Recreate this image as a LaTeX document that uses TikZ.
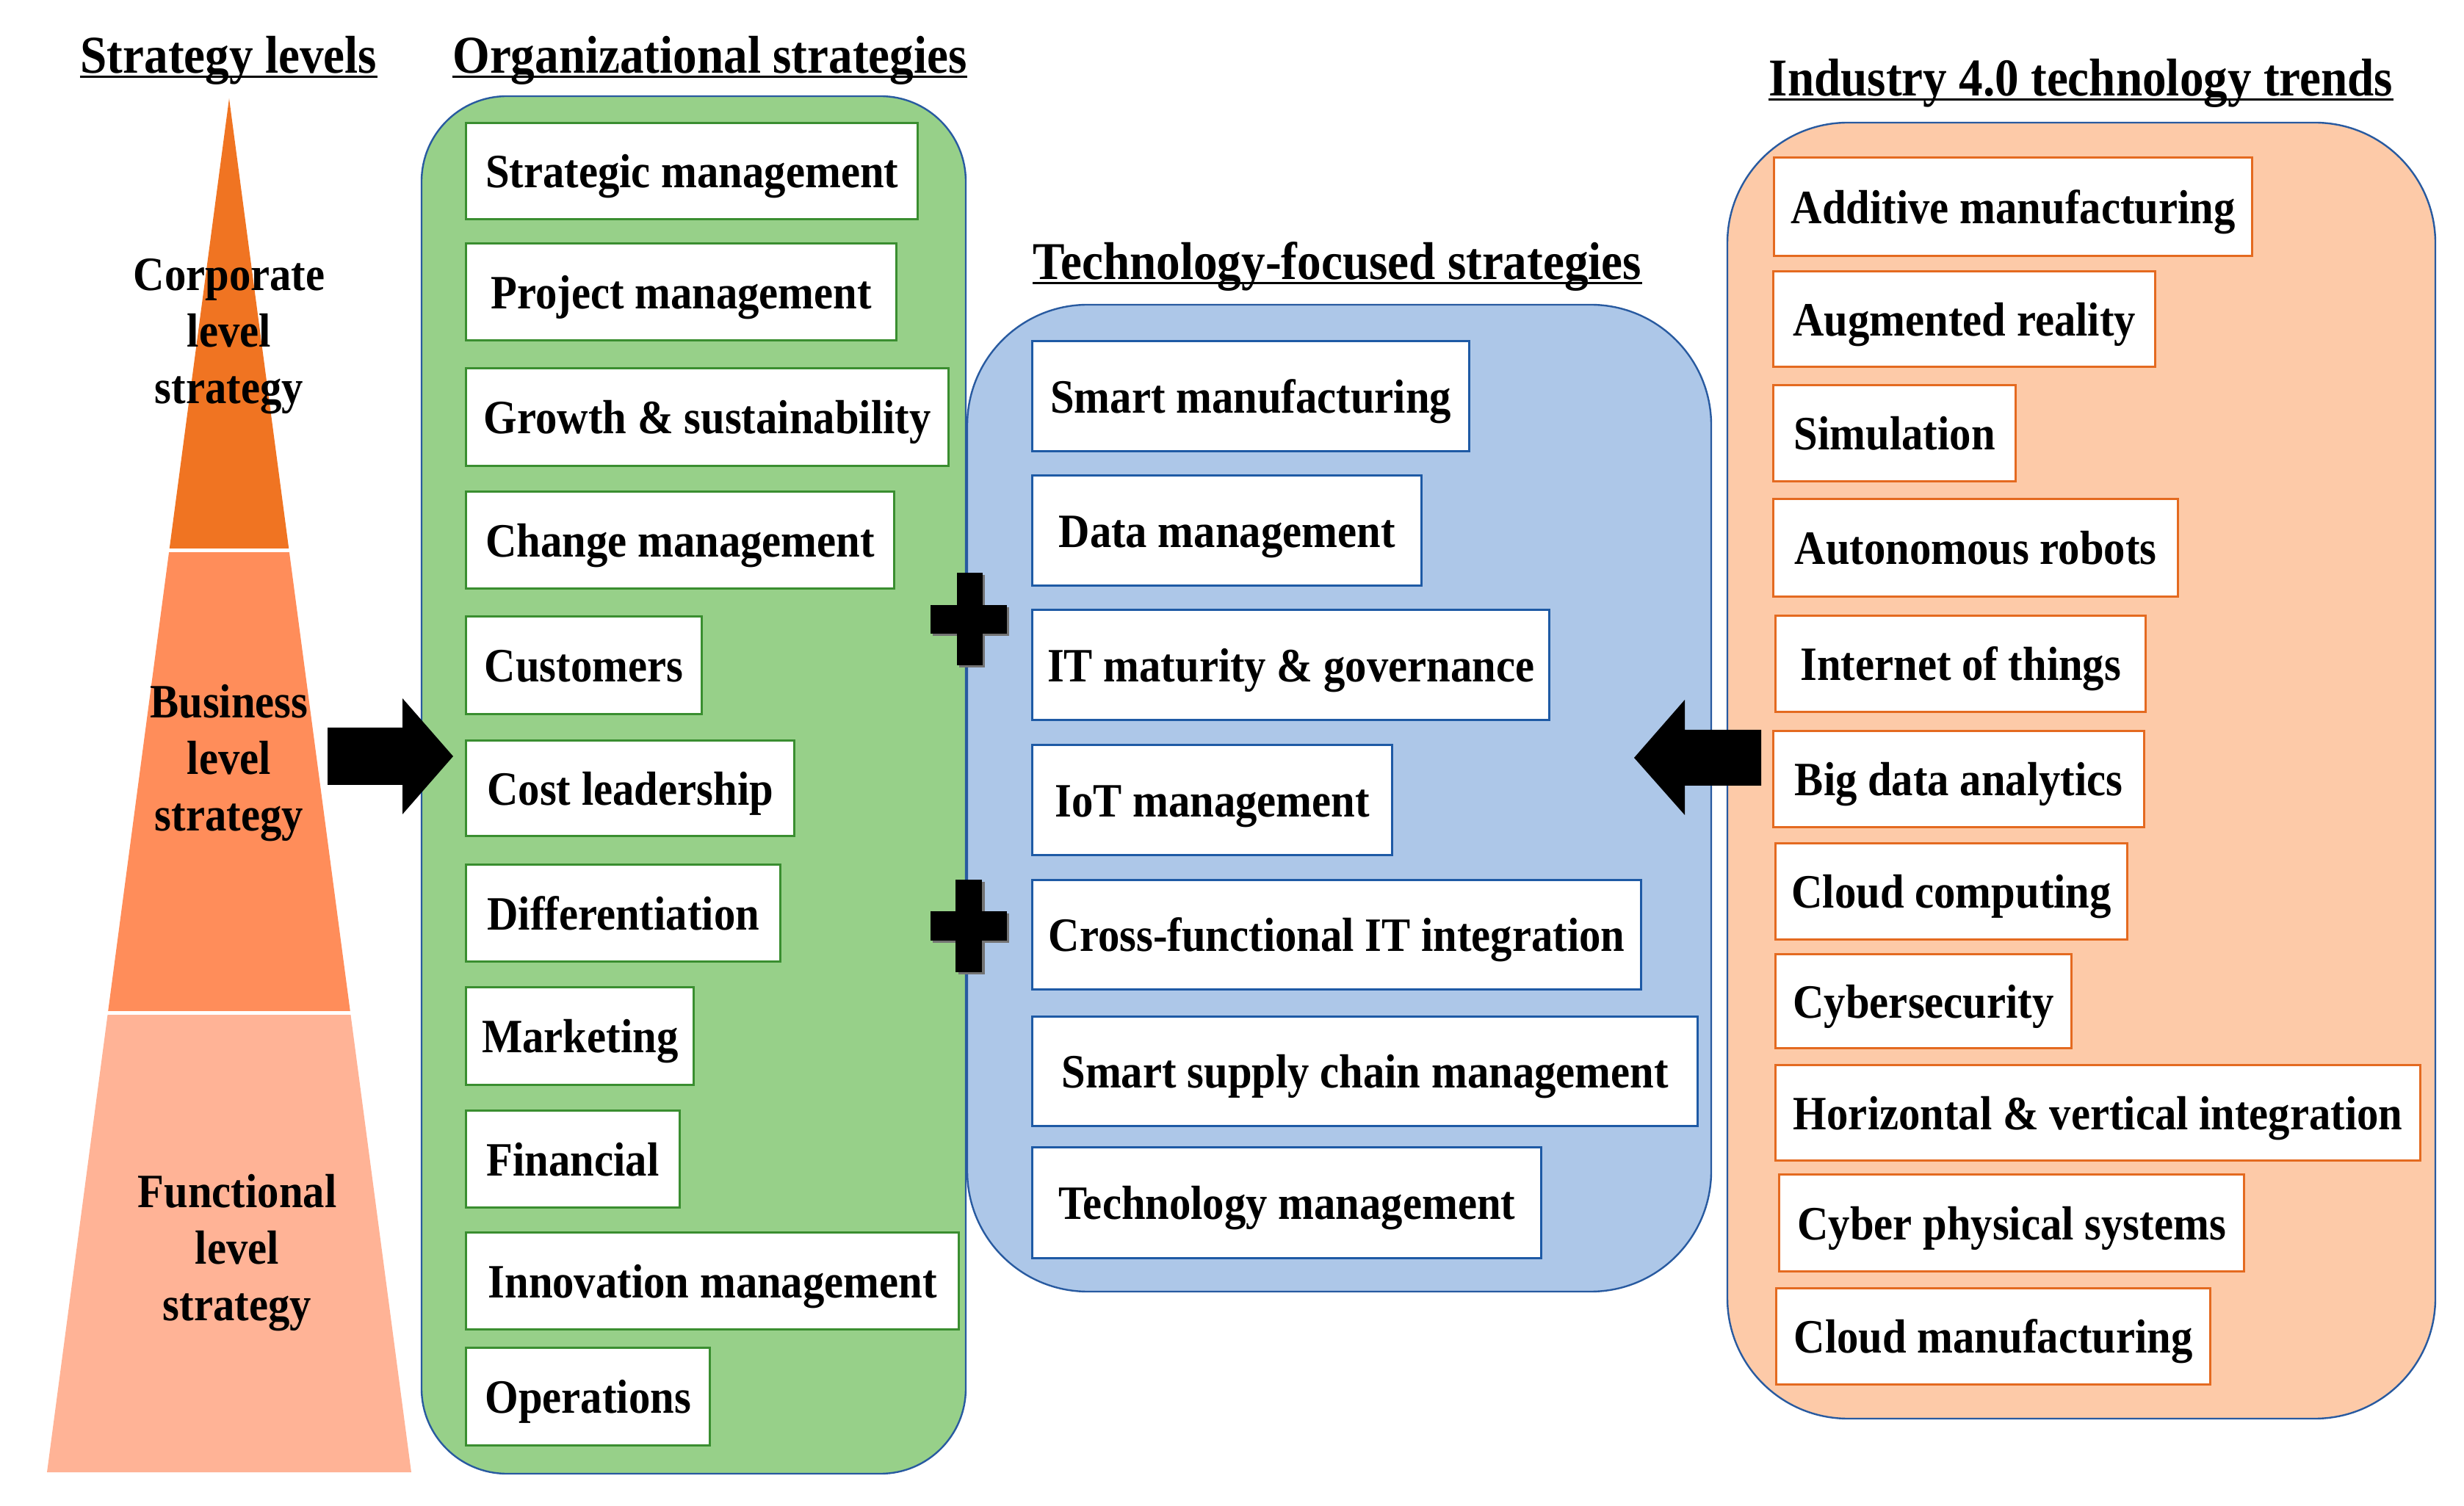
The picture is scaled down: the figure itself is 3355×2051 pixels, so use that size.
\documentclass[tikz,border=0pt]{standalone}
\usepackage{fontspec}
\setmainfont{Liberation Serif}[FakeStretch=0.9]
\definecolor{grfill}{RGB}{151,208,137}
\definecolor{blfill}{RGB}{173,199,232}
\definecolor{orfill}{RGB}{253,202,168}
\definecolor{grline}{RGB}{58,142,48}
\definecolor{blline}{RGB}{30,90,165}
\definecolor{orline}{RGB}{228,106,32}
\definecolor{contline}{RGB}{40,90,160}
\definecolor{corp}{RGB}{240,116,34}
\definecolor{busi}{RGB}{255,141,90}
\definecolor{func}{RGB}{255,179,150}
\tikzset{
  txt/.style={font=\fontsize{16.3pt}{19.25pt}\selectfont\bfseries},
  cbox/.style={txt, draw, fill=white, inner sep=0pt, align=center,
    text height=11.2pt, text depth=0pt, line width=0.85pt},
  gbox/.style={cbox, draw=grline},
  bbox/.style={cbox, draw=blline},
  obox/.style={cbox, draw=orline},
  ttl/.style={font=\fontsize{18.1pt}{20pt}\selectfont\bfseries, inner sep=0pt, anchor=base},
  uline/.style={line width=0.8pt},
  cont/.style={draw=contline, line width=0.6pt},
  lvl/.style={txt, align=center, inner sep=0pt},
  sep/.style={white, line width=1.25pt},
}
\newcommand\ibox[7]{\node[#1, anchor=north west,
  minimum width={(#5-#3)*0.25pt}, minimum height={(#6-#4)*0.25pt}] (#2) at (#3,#4) {#7};}
\newcommand\ttlline[1]{\draw[uline] ([yshift=-1.1pt]#1.base west) -- ([yshift=-1.1pt]#1.base east);}
\begin{document}
\begin{tikzpicture}[x=0.25pt,y=-0.25pt]
\useasboundingbox (0,0) rectangle (3355,2051);

% strategy level triangle
\fill[corp] (312,134) -- (393.65,750) -- (230.35,750) -- cycle;
\fill[busi] (230.35,750) -- (393.65,750) -- (477.2,1380) -- (146.8,1380) -- cycle;
\fill[func] (146.8,1380) -- (477.2,1380) -- (560,2005) -- (64,2005) -- cycle;
\draw[sep] (220,750) -- (405,750);
\draw[sep] (135,1380) -- (490,1380);
\node[lvl] (corpl) at (312,458) {Corporate\\level\\strategy};
\node[lvl] (busil) at (312,1039) {Business\\level\\strategy};
\node[lvl] (funcl) at (323,1706) {Functional\\level\\strategy};

% containers
\draw[cont, fill=orfill, rounded corners=41pt] (2352,167) rectangle (3316,1932);
\draw[cont, fill=blfill, rounded corners=41pt] (1317,415) rectangle (2330,1759);
\draw[cont, fill=grfill, rounded corners=29pt] (574,131) rectangle (1315,2007);

% titles
\node[ttl] (t1) at (311.5,100) {Strategy levels};
\node[ttl] (t2) at (966.5,100) {Organizational strategies};
\node[ttl] (t3) at (1821,381) {Technology-focused strategies};
\node[ttl] (t4) at (2833.5,131) {Industry 4.0 technology trends};
\ttlline{t1}\ttlline{t2}\ttlline{t3}\ttlline{t4}

% organizational strategies
\ibox{gbox}{g1}{633}{166}{1248}{297}{Strategic management}
\ibox{gbox}{g2}{633}{330}{1219}{462}{Project management}
\ibox{gbox}{g3}{633}{500}{1290}{633}{Growth \& sustainability}
\ibox{gbox}{g4}{633}{668}{1216}{800}{Change management}
\ibox{gbox}{g5}{633}{838}{954}{971}{Customers}
\ibox{gbox}{g6}{633}{1007}{1080}{1137}{Cost leadership}
\ibox{gbox}{g7}{633}{1176}{1061}{1308}{Differentiation}
\ibox{gbox}{g8}{633}{1343}{943}{1476}{Marketing}
\ibox{gbox}{g9}{633}{1511}{924}{1643}{Financial}
\ibox{gbox}{g10}{633}{1677}{1304}{1809}{Innovation management}
\ibox{gbox}{g11}{633}{1834}{965}{1967}{Operations}

% technology-focused strategies
\ibox{bbox}{b1}{1404}{463}{1999}{613}{Smart manufacturing}
\ibox{bbox}{b2}{1404}{646}{1934}{796}{Data management}
\ibox{bbox}{b3}{1404}{829}{2108}{979}{IT maturity \& governance}
\ibox{bbox}{b4}{1404}{1013}{1894}{1163}{IoT management}
\ibox{bbox}{b5}{1404}{1197}{2233}{1346}{Cross-functional IT integration}
\ibox{bbox}{b6}{1404}{1383}{2310}{1532}{Smart supply chain management}
\ibox{bbox}{b7}{1404}{1561}{2097}{1712}{Technology management}

% industry 4.0 trends
\ibox{obox}{o1}{2414}{213}{3065}{347}{Additive manufacturing}
\ibox{obox}{o2}{2413}{368}{2933}{498}{Augmented reality}
\ibox{obox}{o3}{2413}{523}{2743}{654}{Simulation}
\ibox{obox}{o4}{2413}{678}{2964}{811}{Autonomous robots}
\ibox{obox}{o5}{2416}{837}{2920}{968}{Internet of things}
\ibox{obox}{o6}{2413}{994}{2918}{1125}{Big data analytics}
\ibox{obox}{o7}{2416}{1147}{2895}{1278}{Cloud computing}
\ibox{obox}{o8}{2416}{1298}{2819}{1426}{Cybersecurity}
\ibox{obox}{o9}{2416}{1449}{3294}{1579}{Horizontal \& vertical integration}
\ibox{obox}{o10}{2421}{1598}{3054}{1730}{Cyber physical systems}
\ibox{obox}{o11}{2417}{1753}{3008}{1884}{Cloud manufacturing}

% plus signs
\fill[black!55] (1270,827) rectangle (1374,866);
\fill[black!55] (1306,783) rectangle (1341,909);
\fill[black] (1267,824) rectangle (1371,863);
\fill[black] (1303,780) rectangle (1338,906);
\fill[black!55] (1270,1244) rectangle (1374,1284);
\fill[black!55] (1305,1201) rectangle (1341,1327);
\fill[black] (1267,1241) rectangle (1371,1281);
\fill[black] (1301,1198) rectangle (1337,1324);

% block arrows
\fill[black] (446,991) -- (548,991) -- (548,951) -- (617,1030) -- (548,1109)
  -- (548,1069) -- (446,1069) -- cycle;
\fill[black] (2398,994) -- (2294,994) -- (2294,953) -- (2225,1032) -- (2294,1110)
  -- (2294,1070) -- (2398,1070) -- cycle;
\end{tikzpicture}
\end{document}
